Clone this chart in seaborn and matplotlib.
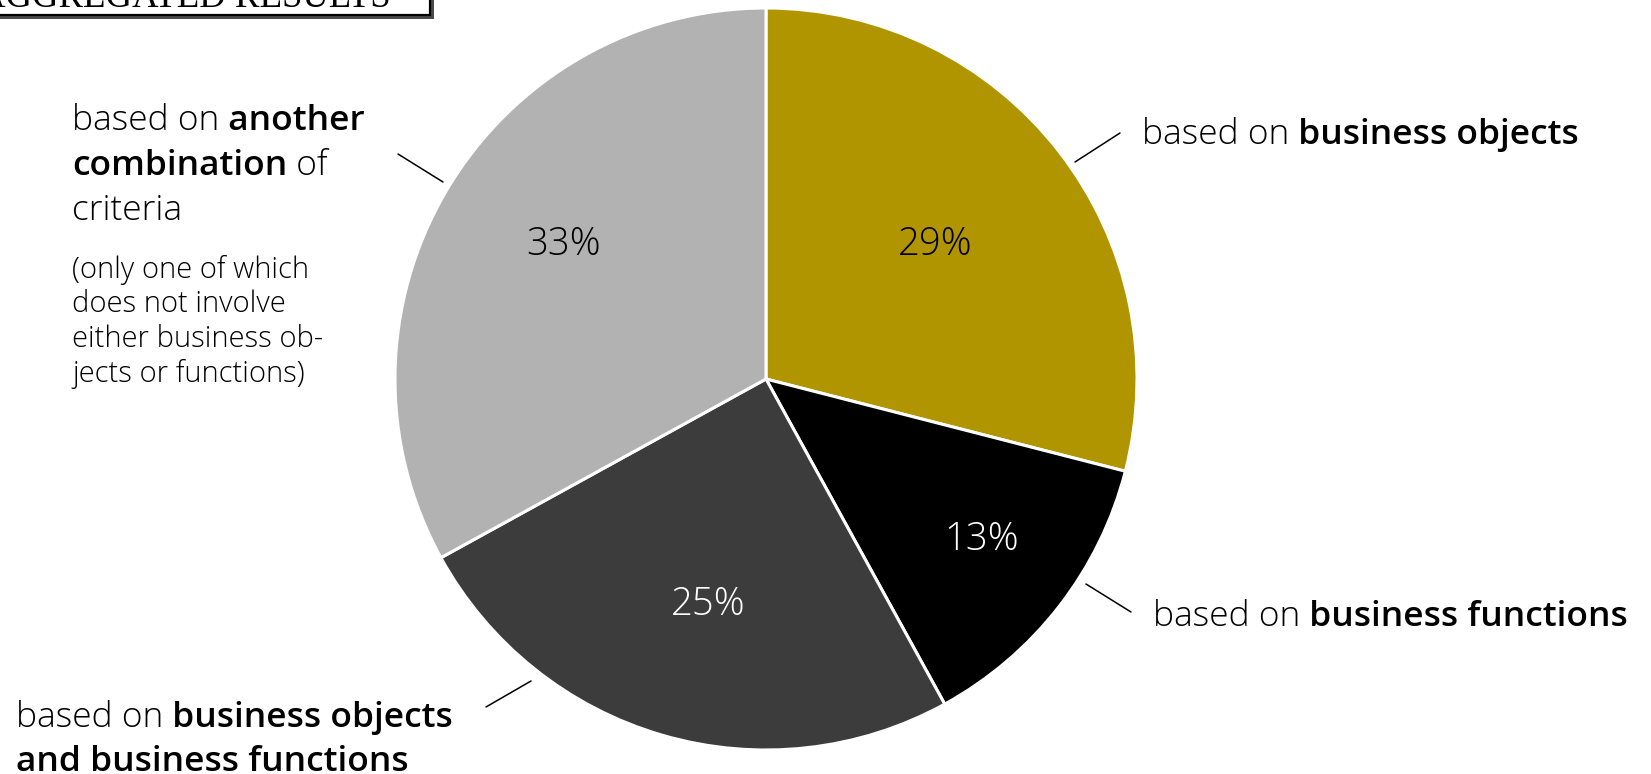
import matplotlib
matplotlib.use("Agg")
import numpy as np
import matplotlib.pyplot as plt
import seaborn as sns
from matplotlib.patches import Rectangle
from matplotlib.lines import Line2D

# Share of approaches by aggregation criterion (percent)
categories = [
    "business objects",
    "business functions",
    "business objects and business functions",
    "another combination of criteria",
]
shares = [29, 13, 25, 33]
slice_colors = ["#B09500", "#000000", "#3C3C3C", "#B2B2B2"]
pct_colors = ["black", "white", "white", "black"]
# label placement inside each wedge: radial distance and angular nudge (deg)
pct_radius = [0.587, 0.72, 0.62, 0.66]
pct_nudge = [1.3, 1.7, 1.6, -3.6]

sns.set_theme(style="white")
plt.rcParams["font.family"] = ["Open Sans", "DejaVu Sans"]

LIGHT = 300
HEAVY = 600

W, H = 1651, 774
fig = plt.figure(figsize=(W / 100, H / 100), dpi=100)
fig.patch.set_facecolor("white")


def fx(x):
    return x / W


def fy(y):
    return 1 - y / H


# pie placed by pixel centre and radius
cx, cy, r = 766, 379, 371
ax = fig.add_axes([(cx - r) / W, (H - cy - r) / H, 2 * r / W, 2 * r / H])
wedges, _ = ax.pie(
    shares,
    colors=slice_colors,
    startangle=90,
    counterclock=False,
    radius=1,
    wedgeprops=dict(edgecolor="white", linewidth=2.2),
)
ax.set_xlim(-1, 1)
ax.set_ylim(-1, 1)
ax.set_aspect("equal")
ax.axis("off")

for w, v, d, nud, tc in zip(wedges, shares, pct_radius, pct_nudge, pct_colors):
    ang = np.deg2rad((w.theta1 + w.theta2) / 2 + nud)
    ax.annotate(f"{v}%", xy=(d * np.cos(ang), d * np.sin(ang)), xytext=(0, -3),
                textcoords="offset pixels", ha="center", va="center",
                fontsize=27.5, color=tc, fontweight=LIGHT)


def rich_line(x, y, parts, size):
    prev = None
    for txt, bold in parts:
        weight = HEAVY if bold else LIGHT
        if prev is None:
            prev = fig.text(fx(x), fy(y), txt, fontsize=size, fontweight=weight,
                            ha="left", va="baseline", color="black")
        else:
            prev = ax.annotate(txt, xy=(1, 0), xycoords=prev, ha="left", va="bottom",
                               fontsize=size, fontweight=weight, color="black",
                               annotation_clip=False)


LBL = 25.5
SUB = 21

# right-hand labels
rich_line(1142, 144, [("based on", False), (" business objects", True)], LBL)
rich_line(1153, 626, [("based on", False), (" business functions", True)], LBL)

# bottom-left label
rich_line(16, 727, [("based on", False), (" business objects", True)], LBL)
rich_line(16, 771, [("and business functions", True)], LBL)

# top-left label with note
rich_line(72, 130, [("based on", False), (" another", True)], LBL)
rich_line(72, 175, [("combination", True), (" of", False)], LBL)
rich_line(72, 220, [("criteria", False)], LBL)
for i, line in enumerate(["(only one of which", "does not involve",
                          "either business ob-", "jects or functions)"]):
    rich_line(72, 278 + i * 34.5, [(line, False)], SUB)

# leader lines
leaders = [
    ((1075, 162), (1120, 133)),
    ((1086, 584), (1131, 612)),
    ((486, 707), (531, 681)),
    ((398, 154), (443, 182)),
]
for (x0, y0), (x1, y1) in leaders:
    fig.add_artist(Line2D([fx(x0), fx(x1)], [fy(y0), fy(y1)], color="black",
                          lw=1.1, transform=fig.transFigure))

# header box with drop shadow
fig.add_artist(Rectangle((fx(-10), fy(18.5)), fx(444), 40 / H, transform=fig.transFigure,
                         facecolor="#4a4a4a", edgecolor="none", zorder=5))
fig.add_artist(Rectangle((fx(-10), fy(15)), fx(440), 40 / H, transform=fig.transFigure,
                         facecolor="white", edgecolor="black", lw=1.6, zorder=6))
fig.text(fx(391), fy(7), "AGGREGATED RESULTS", ha="right", va="baseline",
         family=["Liberation Serif"], fontsize=26.5, color="black", zorder=7)

fig.savefig("out.png", dpi=100)
